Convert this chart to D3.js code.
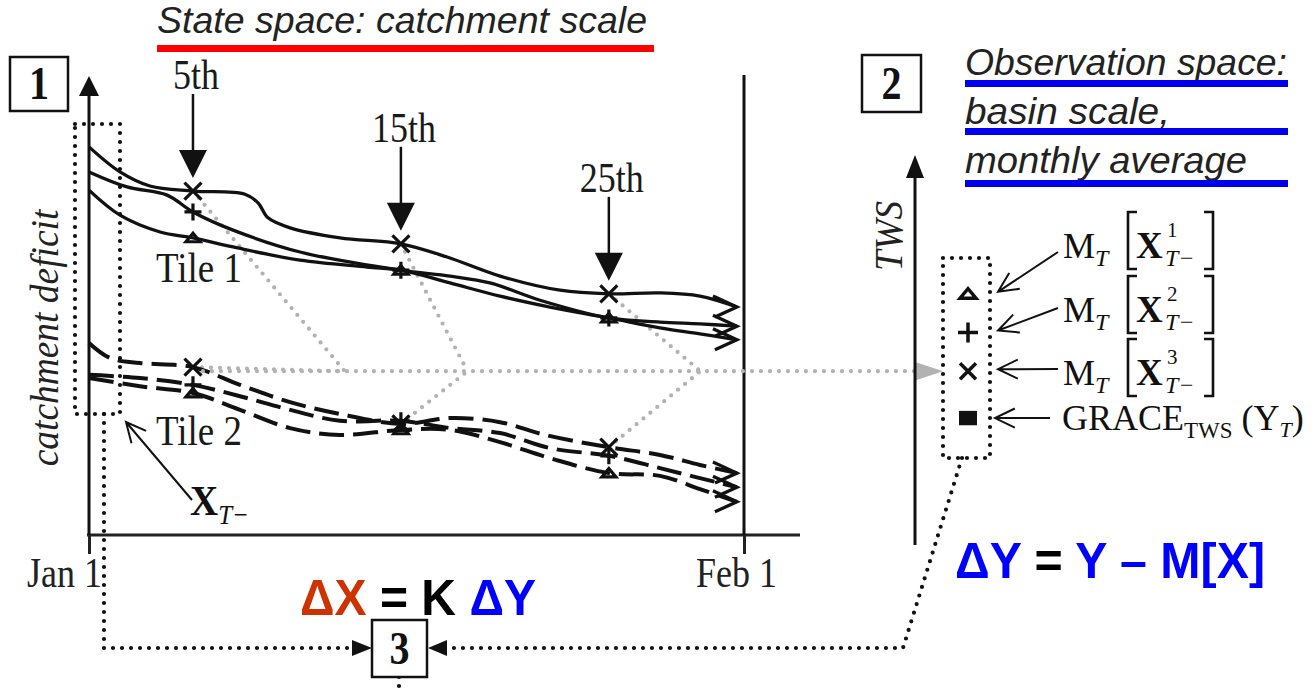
<!DOCTYPE html>
<html>
<head>
<meta charset="utf-8">
<script src="https://cdn.jsdelivr.net/npm/d3@7"></script>
<style>
body { margin: 0; background: #fff; }
</style>
</head>
<body>
<svg id="chart" width="1313" height="691"></svg>
<script>
// days of the month where the ensemble is sampled
var markDays = [5, 15, 25];
var markLabels = ["5th", "15th", "25th"];
var tickDays = [0, 31.5];
var tickLabels = ["Jan 1", "Feb 1"];

// catchment deficit, tile 1 (solid), three ensemble members [day, value]
var tile1Cross = [[0,85.3],[1.49,79.8],[2.93,76.7],[5,75.6],[7.5,74.9],[8.13,73.0],[8.61,69.7],[9.67,67.5],[12.07,65.3],[15,64.0],[17.22,61.1],[19.77,56.9],[22.65,53.8],[25,53.0],[27.46,53.2],[29.38,52.5],[31.16,50.1]];
var tile1Plus = [[0,79.8],[1.83,76.5],[3.75,74.7],[5,71.0],[6.93,67.0],[10.15,62.2],[15,58.2],[17.36,56.9],[19.28,55.4],[21.69,51.6],[25,47.7],[27.46,46.8],[29.38,46.4],[31.16,45.9]];
var tile1Tri = [[0,75.8],[1.49,70.3],[3.42,66.6],[5,65.3],[6.93,63.3],[10.15,60.4],[13.37,58.9],[15,58.2],[17.36,55.4],[19.77,52.5],[22.17,50.1],[25,47.7],[27.46,45.5],[29.38,44.2],[31.16,42.9]];

// tile 2 (dashed)
var tile2Cross = [[0,42.2],[1.01,38.9],[2.45,37.8],[5,36.9],[7.26,33.0],[9.67,29.2],[12.07,26.6],[15,24.4],[17.36,25.7],[19.77,24.8],[21.93,22.0],[25,19.3],[27.46,17.6],[29.38,15.4],[31.16,13.6]];
var tile2Plus = [[0,35.2],[2.45,34.5],[5,33.0],[7.26,30.5],[9.67,27.5],[12.07,25.1],[15,25.1],[17.36,23.5],[19.77,22.4],[22.17,19.1],[25,17.4],[27.46,14.7],[29.38,12.5],[31.16,10.5]];
var tile2Tri = [[0,34.5],[2.45,32.7],[5,31.2],[7.26,27.5],[9.67,23.5],[12.07,22.0],[15,23.1],[17.36,23.1],[19.77,20.4],[22.17,16.9],[25,13.6],[27.46,13.0],[29.38,10.1],[31.16,7.3]];

// where the two tiles are aggregated to the basin (day)
var meetDays = [12.3, 18.2, 29.4];

// observation space: M_T[X^1..3] and GRACE TWS
var obsVals = [53, 44.5, 36, 25.7];
var obsSyms = ["tri", "plus", "cross", "square"];
var obsSup = ["1", "2", "3"];

var serif = "'Liberation Serif','Times New Roman',serif";
var sans = "'Liberation Sans',Arial,sans-serif";

var svg = d3.select("#chart");

var x = d3.scaleLinear().domain([0, 31.5]).range([89, 744]);
var y = d3.scaleLinear().domain([0, 100]).range([535, 80]);

function valueAt(series, day) {
	return series.find(function(d) { return d[0] === day; })[1];
}

// serif label, slightly stretched vertically like the scanned figure
function label(g, tx, ty, str, size, anchor) {
	return g.append("text")
		.attr("transform", "translate(" + tx + "," + ty + ") scale(1,1.15)")
		.attr("text-anchor", anchor || "middle")
		.attr("font-family", serif).attr("font-size", size).attr("fill", "#1a1a1a")
		.text(str);
}

function sym(g, type, cx, cy, s, w) {
	if (type === "square") {
		g.append("rect").attr("x", cx - s).attr("y", cy - s * 0.8)
			.attr("width", 2 * s).attr("height", 1.6 * s).attr("fill", "#111");
		return;
	}
	var p;
	if (type === "cross") p = "M" + (cx - s) + "," + (cy - s) + "L" + (cx + s) + "," + (cy + s) + "M" + (cx - s) + "," + (cy + s) + "L" + (cx + s) + "," + (cy - s);
	if (type === "plus") p = "M" + (cx - s) + "," + cy + "L" + (cx + s) + "," + cy + "M" + cx + "," + (cy - s) + "L" + cx + "," + (cy + s);
	if (type === "tri") p = "M" + (cx - s) + "," + (cy + s * 0.55) + "L" + cx + "," + (cy - s * 0.65) + "L" + (cx + s) + "," + (cy + s * 0.55) + "Z";
	g.append("path").attr("d", p).attr("fill", "none").attr("stroke", "#111").attr("stroke-width", w);
}

function openArrow(g, x1, y1, x2, y2) {
	var a = Math.atan2(y1 - y2, x1 - x2), L = 22, t = 0.45;
	g.append("path")
		.attr("d", "M" + x1 + "," + y1 + "L" + x2 + "," + y2 +
			"M" + (x2 + L * Math.cos(a - t)) + "," + (y2 + L * Math.sin(a - t)) + "L" + x2 + "," + y2 +
			"L" + (x2 + L * Math.cos(a + t)) + "," + (y2 + L * Math.sin(a + t)))
		.attr("fill", "none").attr("stroke", "#111").attr("stroke-width", 2);
}

function dotted(g, pts, color) {
	g.append("path").attr("d", d3.line()(pts))
		.attr("fill", "none").attr("stroke", color || "#111")
		.attr("stroke-width", 4.2).attr("stroke-linecap", "round")
		.attr("stroke-dasharray", "0 9");
}

function box(g, bx, by, w, h, num) {
	g.append("rect").attr("x", bx).attr("y", by).attr("width", w).attr("height", h)
		.attr("fill", "#fff").attr("stroke", "#111").attr("stroke-width", 2.5);
	label(g, bx + w / 2, by + h / 2 + 15, num, 40).attr("font-weight", "bold").attr("fill", "#111");
}

// ---- titles
svg.append("text").attr("x", 157).attr("y", 33)
	.attr("font-family", sans).attr("font-style", "italic").attr("font-size", 37)
	.attr("textLength", 490).attr("lengthAdjust", "spacingAndGlyphs")
	.attr("fill", "#222").text("State space: catchment scale");
svg.append("rect").attr("x", 157).attr("y", 45).attr("width", 497).attr("height", 7).attr("fill", "#ff0000");

var obsTitle = ["Observation space:", "basin scale,", "monthly average"];
var obsW = [322, 205, 282];
var obsY = [75, 124, 173];
var obsLineY = [80, 128, 180];
obsTitle.forEach(function(t, i) {
	svg.append("text").attr("x", 965).attr("y", obsY[i])
		.attr("font-family", sans).attr("font-style", "italic").attr("font-size", 37)
		.attr("textLength", obsW[i]).attr("lengthAdjust", "spacingAndGlyphs")
		.attr("fill", "#222").text(t);
	svg.append("rect").attr("x", 965).attr("y", obsLineY[i]).attr("width", 323).attr("height", 7).attr("fill", "#0000ee");
});

// ---- panel 1 axes
var p1 = svg.append("g");
p1.append("line").attr("x1", 87).attr("x2", 800).attr("y1", y(0)).attr("y2", y(0))
	.attr("stroke", "#222").attr("stroke-width", 3);

var xAxis = p1.append("g").attr("transform", "translate(0," + y(0) + ")")
	.call(d3.axisBottom(x).tickValues(tickDays).tickSize(19).tickSizeOuter(0)
		.tickFormat(function(d, i) { return tickLabels[i]; }));
xAxis.select(".domain").remove();
xAxis.selectAll("line").attr("stroke", "#222").attr("stroke-width", 3);
xAxis.selectAll("text").attr("font-family", serif).attr("font-size", 36).attr("fill", "#222")
	.attr("transform", "scale(1,1.15)")
	.attr("y", 45).attr("dy", 0).attr("dx", function(d, i) { return i === 0 ? -25 : -8; });

// y axis with arrow
p1.append("line").attr("x1", 89).attr("x2", 89).attr("y1", y(0)).attr("y2", 92)
	.attr("stroke", "#111").attr("stroke-width", 3);
p1.append("path").attr("d", "M79,96L89,76L99,96Z").attr("fill", "#111");
// Feb 1 line
p1.append("line").attr("x1", x(31.5)).attr("x2", x(31.5)).attr("y1", y(0)).attr("y2", 75)
	.attr("stroke", "#111").attr("stroke-width", 3);

p1.append("text").attr("transform", "translate(58,338) rotate(-90) scale(1.04,1.1)")
	.attr("text-anchor", "middle").attr("font-family", serif).attr("font-style", "italic")
	.attr("font-size", 36).attr("fill", "#222").text("catchment deficit");

// ---- gray projection lines
var gray = "#b2b2b2";
var level = y(obsVals[2]);
markDays.forEach(function(d, i) {
	var m = [x(meetDays[i]), level];
	dotted(p1, [[x(d), y(valueAt(tile1Cross, d))], m], gray);
	dotted(p1, [[x(d), y(valueAt(tile2Cross, d))], m], gray);
});
dotted(svg, [[x(markDays[0]) + 10, level], [917, level]], gray);
svg.append("path").attr("d", "M916," + (level - 9) + "L943," + level + "L916," + (level + 9) + "Z").attr("fill", gray);

// ---- ensemble lines
var line = d3.line()
	.x(function(d) { return x(d[0]); })
	.y(function(d) { return y(d[1]); })
	.curve(d3.curveCatmullRom.alpha(0.5));

var series = [
	{data: tile1Cross, sym: "cross", dash: null},
	{data: tile1Plus, sym: "plus", dash: null},
	{data: tile1Tri, sym: "tri", dash: null},
	{data: tile2Cross, sym: "cross", dash: "25 9"},
	{data: tile2Plus, sym: "plus", dash: "25 9"},
	{data: tile2Tri, sym: "tri", dash: "25 9"}
];
series.forEach(function(s) {
	p1.append("path").attr("d", line(s.data)).attr("fill", "none")
		.attr("stroke", "#111").attr("stroke-width", s.dash ? 4 : 3.3)
		.attr("stroke-dasharray", s.dash);
	var e = s.data[s.data.length - 1], ex = x(e[0]), ey = y(e[1]);
	p1.append("path").attr("d", "M" + (ex - 24) + "," + (ey - 11) + "L" + ex + "," + ey + "L" + (ex - 22) + "," + (ey + 10))
		.attr("fill", "none").attr("stroke", "#111").attr("stroke-width", 3.3);
	markDays.forEach(function(d) {
		var v = valueAt(s.data, d);
		sym(p1, s.sym, x(d), y(v), s.sym === "tri" ? 7 : 8.5, 3.2);
	});
});

// ---- sampling arrows
markDays.forEach(function(d, i) {
	var cx = x(d), tip = y(valueAt(tile1Cross, d)) - 13, base = tip - 28, top = base - 56;
	p1.append("line").attr("x1", cx).attr("x2", cx).attr("y1", top).attr("y2", base + 2)
		.attr("stroke", "#111").attr("stroke-width", 2.5);
	p1.append("path").attr("d", "M" + (cx - 14) + "," + base + "L" + cx + "," + tip + "L" + (cx + 14) + "," + base + "Z").attr("fill", "#111");
	label(p1, cx + 3, top - 5, markLabels[i], 36);
});

// tile labels
label(p1, x(5) + 6, y(valueAt(tile1Tri, 5)) + 44, "Tile 1", 37);
label(p1, x(5) + 6, 445, "Tile 2", 37);

// X_T- label and arrow to the ensemble box
var xt = p1.append("text").attr("transform", "translate(190,515) scale(1,1.1)").attr("font-family", serif).attr("fill", "#111");
xt.append("tspan").attr("font-weight", "bold").attr("font-size", 39).text("X");
xt.append("tspan").attr("font-style", "italic").attr("font-size", 25).attr("dy", 8).text("T\u2212");
openArrow(p1, 192, 500, 126, 422);

// ensemble dotted box and path to box 3
dotted(svg, [[75, 124], [120, 124], [120, 414], [75, 414], [75, 124]]);
dotted(svg, [[104, 414], [104, 648], [352, 648]]);
svg.append("path").attr("d", "M352,640L372,648L352,656Z").attr("fill", "#111");

// ---- observation panel
var p2 = svg.append("g");
p2.append("line").attr("x1", 915).attr("x2", 915).attr("y1", 545).attr("y2", 175)
	.attr("stroke", "#111").attr("stroke-width", 3);
p2.append("path").attr("d", "M906,178L915,155L924,178Z").attr("fill", "#111");
p2.append("text").attr("transform", "translate(902,236) rotate(-90) scale(1,1.1)")
	.attr("text-anchor", "middle").attr("font-family", serif).attr("font-style", "italic")
	.attr("font-size", 37).attr("fill", "#222").text("TWS");

dotted(p2, [[943, 258], [990, 258], [990, 458], [943, 458], [943, 258]]);
obsVals.forEach(function(v, i) {
	var s = obsSyms[i];
	sym(p2, s, 968, y(v), s === "square" ? 9 : (s === "plus" ? 10 : 8), 3.5);
});

// legend labels
var labBase = [258, 322, 385];
var arrowFrom = [252, 308, 369];
function bracket(g, bx, base, dir) {
	var t = base - 46, b = base + 11, w = 9 * dir;
	g.append("path").attr("d", "M" + (bx + w) + "," + t + "L" + bx + "," + t + "L" + bx + "," + b + "L" + (bx + w) + "," + b)
		.attr("fill", "none").attr("stroke", "#111").attr("stroke-width", 2.6);
}
labBase.forEach(function(b, i) {
	var x0 = 1063;
	var m = p2.append("text").attr("x", x0).attr("y", b).attr("font-family", serif).attr("fill", "#111");
	m.append("tspan").attr("font-size", 36).text("M");
	m.append("tspan").attr("font-style", "italic").attr("font-size", 24).attr("dy", 8).text("T");
	bracket(p2, x0 + 65, b, 1);
	p2.append("text").attr("x", x0 + 73).attr("y", b).attr("font-family", serif)
		.attr("font-weight", "bold").attr("font-size", 37).attr("fill", "#111").text("X");
	p2.append("text").attr("x", x0 + 104).attr("y", b - 21).attr("font-family", serif)
		.attr("font-size", 21).attr("fill", "#111").text(obsSup[i]);
	p2.append("text").attr("x", x0 + 102).attr("y", b + 8).attr("font-family", serif)
		.attr("font-style", "italic").attr("font-size", 24).attr("fill", "#111").text("T\u2212");
	bracket(p2, x0 + 150, b, -1);
	openArrow(p2, 1058, arrowFrom[i], 998, y(obsVals[i]) - 2);
});
var gr = p2.append("text").attr("x", 1062).attr("y", 430).attr("font-family", serif).attr("fill", "#111");
gr.append("tspan").attr("font-size", 36).text("GRACE");
gr.append("tspan").attr("font-size", 23).attr("dy", 8).text("TWS");
gr.append("tspan").attr("font-size", 36).attr("dy", -8).text(" (Y");
gr.append("tspan").attr("font-style", "italic").attr("font-size", 22).attr("dy", 7).text("T");
gr.append("tspan").attr("font-size", 36).attr("dy", -7).text(")");
openArrow(p2, 1050, y(obsVals[3]), 995, y(obsVals[3]));

// path from observation box to box 3
dotted(svg, [[962, 458], [903, 648], [447, 648]]);
svg.append("path").attr("d", "M447,640L428,648L447,656Z").attr("fill", "#111");
dotted(svg, [[399, 677], [399, 700]]);

// ---- equations
var eq1 = svg.append("text").attr("x", 300).attr("y", 615)
	.attr("font-family", sans).attr("font-weight", "bold").attr("font-size", 50)
	.attr("textLength", 236).attr("lengthAdjust", "spacingAndGlyphs");
eq1.append("tspan").attr("fill", "#cc3300").text("\u0394X");
eq1.append("tspan").attr("fill", "#000").text(" = K ");
eq1.append("tspan").attr("fill", "#0000ff").text("\u0394Y");

var eq2 = svg.append("text").attr("x", 955).attr("y", 578)
	.attr("font-family", sans).attr("font-weight", "bold").attr("font-size", 50)
	.attr("textLength", 310).attr("lengthAdjust", "spacingAndGlyphs");
eq2.append("tspan").attr("fill", "#0000ff").text("\u0394Y");
eq2.append("tspan").attr("fill", "#000").text(" = ");
eq2.append("tspan").attr("fill", "#0000ff").text("Y \u2013 M[X]");

// ---- numbered boxes
box(svg, 10, 57, 58, 54, "1");
box(svg, 862, 55, 59, 57, "2");
box(svg, 372, 620, 55, 57, "3");
</script>
</body>
</html>
